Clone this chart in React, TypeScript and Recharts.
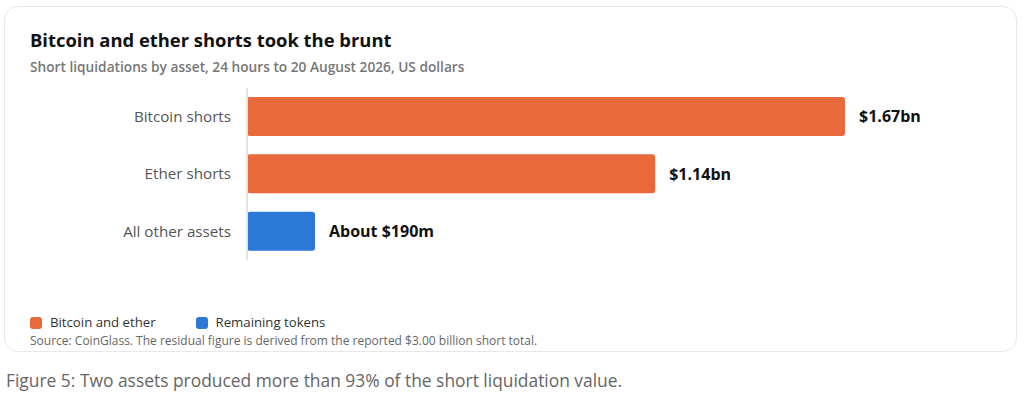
import React from "react";
import { BarChart, Bar, XAxis, YAxis, Cell, LabelList } from "recharts";

const categories = ["Bitcoin shorts", "Ether shorts", "All other assets"];
const values = [1.67, 1.14, 0.19];
const valueLabels = ["$1.67bn", "$1.14bn", "About $190m"];
const groups = ["major", "major", "other"];
const legendNames = ["Bitcoin and ether", "Remaining tokens"];
const legendKeys = ["major", "other"];
const colors: Record<string, string> = { major: "#E8693A", other: "#2B78D6" };

const data = categories.map((c, i) => ({
  name: c,
  value: values[i],
  label: valueLabels[i],
  group: groups[i],
}));

const FONT = "'Open Sans', 'Noto Sans', sans-serif";

export default function App() {
  return (
    <div style={{ position: "absolute", left: 0, top: 0, width: 1024, height: 406, background: "#fff", fontFamily: FONT }}>
      <div
        style={{
          position: "absolute",
          left: 4,
          top: 6,
          width: 1013,
          height: 346,
          border: "1px solid #e8e8e8",
          borderRadius: 14,
          boxSizing: "border-box",
        }}
      />
      <div style={{ position: "absolute", left: 30, top: 27, fontSize: 18.4, fontWeight: 700, color: "#111", whiteSpace: "nowrap" }}>
        Bitcoin and ether shorts took the brunt
      </div>
      <div style={{ position: "absolute", left: 30, top: 57, fontSize: 13.7, fontWeight: 600, color: "#777", whiteSpace: "nowrap" }}>
        Short liquidations by asset, 24 hours to 20 August 2026, US dollars
      </div>
      <div style={{ position: "absolute", left: 0, top: 0 }}>
        <BarChart
          width={1024}
          height={300}
          data={data}
          layout="vertical"
          margin={{ top: 88, bottom: 40, left: 0, right: 25 }}
          barCategoryGap={18}
        >
          <XAxis type="number" domain={[0, 2.1]} hide />
          <YAxis
            type="category"
            dataKey="name"
            width={247}
            tickLine={false}
            tickSize={0}
            tickMargin={16}
            axisLine={{ stroke: "#e3e3e3", strokeWidth: 2 }}
            tick={{ fill: "#555", fontSize: 15.2, fontFamily: FONT }}
          />
          <Bar dataKey="value" barSize={39} radius={3} isAnimationActive={false}>
            {data.map((d, i) => (
              <Cell key={i} fill={colors[d.group]} />
            ))}
            <LabelList
              dataKey="label"
              position="right"
              offset={14}
              style={{ fill: "#111", fontSize: 16, fontWeight: 700, fontFamily: FONT }}
            />
          </Bar>
        </BarChart>
      </div>
      <div
        style={{
          position: "absolute",
          left: 30,
          top: 315,
          height: 15,
          lineHeight: "15px",
          display: "flex",
          alignItems: "center",
          fontSize: 13.2,
          color: "#333",
        }}
      >
        {legendKeys.map((k, i) => (
          <div key={k} style={{ display: "flex", alignItems: "center", marginRight: 40 }}>
            <span style={{ width: 12, height: 12, borderRadius: 3, background: colors[k], display: "inline-block", marginRight: 8 }} />
            <span>{legendNames[i]}</span>
          </div>
        ))}
      </div>
      <div
        style={{
          position: "absolute",
          left: 30,
          top: 334,
          height: 14,
          lineHeight: "14px",
          fontSize: 12,
          color: "#666",
          whiteSpace: "nowrap",
        }}
      >
        Source: CoinGlass. The residual figure is derived from the reported $3.00 billion short total.
      </div>
      <div style={{ position: "absolute", left: 6, top: 368, fontSize: 17.4, color: "#666", whiteSpace: "nowrap" }}>
        Figure 5: Two assets produced more than 93% of the short liquidation value.
      </div>
    </div>
  );
}
